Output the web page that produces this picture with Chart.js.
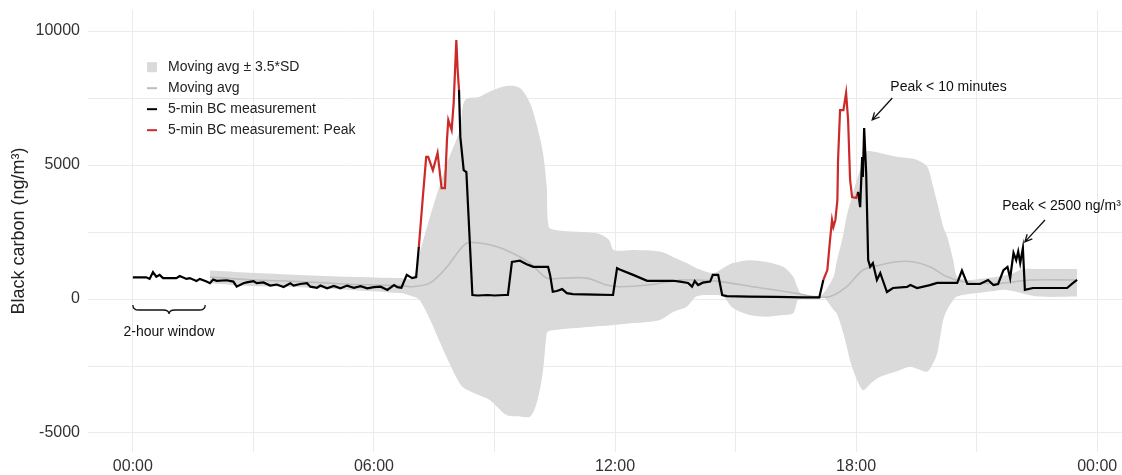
<!DOCTYPE html>
<html>
<head>
<meta charset="utf-8">
<script src="https://cdn.jsdelivr.net/npm/chart.js@4/dist/chart.umd.min.js"></script>
<style>
  body { margin: 0; background: #fff; }
  #wrap { width: 1122px; height: 475px; }
</style>
</head>
<body>
<div id="wrap"><canvas id="bcChart" width="1122" height="475"></canvas></div>
<script>
// Tempos em minutos desde a meia-noite
const bcTimes = [0, 20, 25, 30, 35, 40, 45, 65, 70, 80, 85, 95, 100, 110, 115, 120, 125, 140, 150, 155,
  165, 170, 180, 185, 195, 205, 215, 225, 235, 240, 250, 260, 265, 275, 280, 290, 300, 310, 320, 330,
  340, 350, 360, 370, 380, 390, 395, 401, 409, 417, 423, 427,
  433, 438, 441, 448, 455, 461, 466, 469, 471, 476, 479, 483, 485, 487,
  489, 494, 498, 507, 515, 530, 540, 555, 560, 566, 578, 588, 598, 620, 623, 627, 633, 641, 648, 657,
  690, 717, 723, 727, 747, 768, 807, 817, 829, 835, 839, 844, 851, 862, 866, 874, 880, 887, 920, 960,
  1000, 1025,
  1031, 1037, 1041, 1044, 1046, 1049, 1052, 1053, 1056, 1061, 1065, 1068, 1071, 1074, 1080, 1083,
  1086, 1089, 1090, 1092, 1095, 1098, 1101, 1105, 1111, 1116, 1126, 1135, 1156, 1161, 1171, 1190,
  1201, 1231, 1238, 1246, 1265, 1277, 1285, 1292, 1300, 1306, 1310, 1315, 1319, 1322, 1325, 1329,
  1332, 1344, 1395, 1404, 1410];
const bcValues = [810, 810, 750, 1000, 830, 900, 780, 780, 860, 750, 780, 670, 750, 650, 590, 730, 680, 700, 650, 460,
  590, 620, 670, 590, 620, 500, 540, 450, 590, 500, 560, 590, 460, 420, 500, 400, 490, 400, 500, 420,
  480, 400, 440, 460, 340, 520, 440, 420, 900, 780, 820, 1940,
  3800, 5300, 5300, 4800, 5450, 4140, 4140, 5930, 6680, 6300, 7300, 9660, 8540, 7800,
  6040, 4810, 4740, 150, 130, 150, 130, 150, 150, 1380, 1430, 1300, 1200, 1200, 900, 270, 300, 370, 220, 180,
  160, 150, 1150, 1100, 900, 680, 680, 650, 600, 460, 670, 520, 610, 650, 900, 900, 150, 110, 90, 80,
  60, 60,
  710, 1080, 2200, 2950, 2690, 2950, 3690, 5190, 7050, 7050, 7690, 6680, 4440, 3800, 3770, 4000,
  3430, 5300, 4550, 6380, 4700, 1450, 1200, 1340, 710, 970, 260, 410, 450, 520, 410, 520,
  600, 600, 1060, 560, 560, 710, 520, 560, 1080, 1200, 780, 1720, 1450, 1770, 1340, 1900,
  340, 410, 410, 600, 710];
// janelas marcadas como pico (inicio, fim)
const peakWindows = [[427, 487], [1031, 1083]];

const maTimes = [115, 175, 249, 324, 399, 418, 444, 469, 488, 499, 518, 544, 568, 593, 618, 642, 678, 708, 727, 768,
  817, 836, 877, 926, 986, 1016, 1041, 1066, 1090, 1116, 1141, 1165, 1190, 1216, 1240, 1291, 1340, 1410];
const maValues = [820, 720, 650, 550, 500, 460, 600, 1200, 1830, 2090, 2090, 1950, 1700, 1340, 780, 780, 780, 520, 460, 520,
  710, 710, 650, 460, 230, 90, 90, 460, 1080, 1270, 1390, 1390, 1200, 830, 650, 580, 710, 710];

const bandTimes = [115, 175, 249, 324, 399, 418, 428, 444, 459, 469, 488, 496, 518, 533, 558, 578, 593, 603, 612, 618,
  621, 633, 693, 711, 718, 747, 787, 808, 827, 842, 866, 881, 896, 921, 946, 971, 986, 993, 1000, 1025,
  1031, 1046, 1051, 1060, 1066, 1071, 1081, 1090, 1096, 1104, 1116, 1141, 1160, 1171, 1186, 1195, 1201, 1205, 1210, 1216,
  1225, 1231, 1246, 1255, 1291, 1305, 1314, 1329, 1354, 1410];
const bandUpper = [1060, 980, 900, 830, 780, 780, 1700, 3100, 4300, 5070, 6300, 7430, 7550, 7740, 7950, 7870, 7310, 6500, 5500, 4190,
  2700, 2570, 2450, 2200, 1830, 1830, 1770, 1550, 1340, 1150, 970, 1150, 1340, 1450, 1380, 1200, 830, 400, 150, 130,
  210, 820, 1400, 2310, 3100, 3570, 4440, 5100, 5500, 5500, 5450, 5310, 5250, 5190, 4940, 4190, 3600, 3200, 2700, 2320,
  1450, 830, 710, 720, 830, 900, 960, 1120, 1120, 1120];
const bandLower = [590, 485, 440, 340, 220, 90, -40, -780, -1640, -2200, -3150, -3350, -3600, -3770, -4330, -4380, -4390, -3880, -2760, -1270,
  -1200, -1150, -1020, -990, -970, -900, -780, -470, -290, 100, 150, 100, -340, -600, -660, -600, -530, -40, 0, 0,
  90, -400, -530, -1200, -1780, -2300, -3000, -3400, -3300, -3100, -2900, -2700, -2530, -2600, -2710, -2400, -2020, -1500, -780, -400,
  -40, 100, 180, 210, 320, 340, 300, 210, 90, 90];

const xGrid = [0, 180, 360, 540, 720, 900, 1080, 1260, 1440];
const xTicks = [0, 360, 720, 1080, 1440];
const xTickLabels = ['00:00', '06:00', '12:00', '18:00', '00:00'];
const yGrid = [-5000, -2500, 0, 2500, 5000, 7500, 10000];
const yTicks = [-5000, 0, 5000, 10000];

const BLACK = '#000000';
const RED = '#cc2929';
const MA_GREY = '#bdbdbd';
const BAND_GREY = '#dadada';
const GRID = '#ebebeb';
const FONT = "'Liberation Sans', Arial, sans-serif";

const toPoints = (xs, ys) => xs.map((x, i) => ({ x: x, y: ys[i] }));
const inPeak = (a, b) => peakWindows.some(w => a >= w[0] && b <= w[1]);

// legenda desenhada dentro da area do grafico
const legendItems = [
  { label: 'Moving avg ± 3.5*SD', kind: 'box', color: BAND_GREY },
  { label: 'Moving avg', kind: 'line', color: MA_GREY },
  { label: '5-min BC measurement', kind: 'line', color: BLACK },
  { label: '5-min BC measurement: Peak', kind: 'line', color: RED }
];

// anotacoes em coordenadas de dados (minutos, ng/m3)
const notes = [
  { text: 'Peak < 10 minutes', x: 1131, y: 7910, from: [1134, 7500], to: [1104, 6680] },
  { text: 'Peak < 2500 ng/m³', x: 1298, y: 3470, from: [1362, 2950], to: [1332, 2130] }
];
const brace = { x0: 0, x1: 108, top: -220, line: -410, tip: -560, text: '2-hour window', textY: -1230 };

function drawArrow(ctx, x0, y0, x1, y1) {
  const ang = Math.atan2(y1 - y0, x1 - x0);
  const h = 8;
  ctx.beginPath();
  ctx.moveTo(x0, y0);
  ctx.lineTo(x1, y1);
  ctx.moveTo(x1 - h * Math.cos(ang - 0.45), y1 - h * Math.sin(ang - 0.45));
  ctx.lineTo(x1, y1);
  ctx.lineTo(x1 - h * Math.cos(ang + 0.45), y1 - h * Math.sin(ang + 0.45));
  ctx.stroke();
}

const extras = {
  id: 'extras',
  afterDraw(chart) {
    const { ctx, chartArea } = chart;
    const xs = chart.scales.x, ys = chart.scales.y;
    ctx.save();

    // legenda
    ctx.font = '14px ' + FONT;
    ctx.textBaseline = 'middle';
    ctx.textAlign = 'left';
    let ly = ys.getPixelForValue(8650);
    legendItems.forEach(item => {
      const lx = chartArea.left + 59;
      if (item.kind === 'box') {
        ctx.fillStyle = item.color;
        ctx.fillRect(lx, ly - 5, 10, 10);
      } else {
        ctx.strokeStyle = item.color;
        ctx.lineWidth = 2;
        ctx.beginPath();
        ctx.moveTo(lx, ly);
        ctx.lineTo(lx + 10, ly);
        ctx.stroke();
      }
      ctx.fillStyle = '#222';
      ctx.fillText(item.label, lx + 21, ly);
      ly += 21;
    });

    // setas com texto
    ctx.font = '14px ' + FONT;
    ctx.strokeStyle = '#111';
    ctx.lineWidth = 1.3;
    notes.forEach(n => {
      ctx.fillStyle = '#111';
      ctx.fillText(n.text, xs.getPixelForValue(n.x), ys.getPixelForValue(n.y));
      drawArrow(ctx, xs.getPixelForValue(n.from[0]), ys.getPixelForValue(n.from[1]),
        xs.getPixelForValue(n.to[0]), ys.getPixelForValue(n.to[1]));
    });

    // chave da janela de 2 horas
    const bx0 = xs.getPixelForValue(brace.x0), bx1 = xs.getPixelForValue(brace.x1);
    const bxc = (bx0 + bx1) / 2;
    const yt = ys.getPixelForValue(brace.top), yl = ys.getPixelForValue(brace.line), yp = ys.getPixelForValue(brace.tip);
    ctx.beginPath();
    ctx.moveTo(bx0, yt);
    ctx.quadraticCurveTo(bx0, yl, bx0 + 6, yl);
    ctx.lineTo(bxc - 6, yl);
    ctx.quadraticCurveTo(bxc, yl, bxc, yp);
    ctx.quadraticCurveTo(bxc, yl, bxc + 6, yl);
    ctx.lineTo(bx1 - 6, yl);
    ctx.quadraticCurveTo(bx1, yl, bx1, yt);
    ctx.stroke();
    ctx.textAlign = 'center';
    ctx.fillText(brace.text, bxc, ys.getPixelForValue(brace.textY));

    ctx.restore();
  }
};

new Chart(document.getElementById('bcChart'), {
  type: 'line',
  data: {
    datasets: [
      {
        label: '5-min BC measurement',
        data: toPoints(bcTimes, bcValues),
        borderColor: BLACK,
        borderWidth: 2.2,
        pointRadius: 0,
        tension: 0,
        order: 0,
        segment: {
          borderColor: ctx => inPeak(ctx.p0.parsed.x, ctx.p1.parsed.x) ? RED : BLACK
        }
      },
      {
        label: 'Moving avg',
        data: toPoints(maTimes, maValues),
        borderColor: MA_GREY,
        borderWidth: 1.6,
        pointRadius: 0,
        tension: 0.3,
        order: 1
      },
      {
        label: 'upper',
        data: toPoints(bandTimes, bandUpper),
        borderWidth: 0,
        borderColor: 'rgba(0,0,0,0)',
        backgroundColor: BAND_GREY,
        pointRadius: 0,
        tension: 0.3,
        fill: '+1',
        order: 2
      },
      {
        label: 'lower',
        data: toPoints(bandTimes, bandLower),
        borderWidth: 0,
        borderColor: 'rgba(0,0,0,0)',
        pointRadius: 0,
        tension: 0.3,
        fill: false,
        order: 3
      }
    ]
  },
  options: {
    responsive: false,
    animation: false,
    devicePixelRatio: 1,
    layout: { padding: { top: 10, right: 0, left: 0, bottom: 0 } },
    plugins: { legend: { display: false }, tooltip: { enabled: false } },
    scales: {
      x: {
        type: 'linear',
        min: -67,
        max: 1477,
        afterFit: s => { s.height = 23; s.paddingLeft = 0; s.paddingRight = 0; },
        afterBuildTicks: s => { s.ticks = xGrid.map(v => ({ value: v })); },
        border: { display: false },
        grid: { color: GRID, lineWidth: 1, drawTicks: false },
        ticks: {
          autoSkip: false,
          maxRotation: 0,
          padding: 5,
          color: '#333',
          font: { family: FONT, size: 16 },
          callback: v => { const i = xTicks.indexOf(v); return i >= 0 ? xTickLabels[i] : ''; }
        }
      },
      y: {
        min: -5709,
        max: 10784,
        afterFit: s => { s.width = 88; s.paddingTop = 0; s.paddingBottom = 0; },
        afterBuildTicks: s => { s.ticks = yGrid.map(v => ({ value: v })); },
        border: { display: false },
        grid: { color: GRID, lineWidth: 1, drawTicks: false },
        title: {
          display: true,
          text: 'Black carbon (ng/m³)',
          color: '#222',
          font: { family: FONT, size: 18 },
          padding: { top: 8, bottom: 0 }
        },
        ticks: {
          autoSkip: false,
          padding: 8,
          color: '#333',
          font: { family: FONT, size: 16 },
          callback: v => yTicks.includes(v) ? String(v) : ''
        }
      }
    }
  },
  plugins: [extras]
});
</script>
</body>
</html>
